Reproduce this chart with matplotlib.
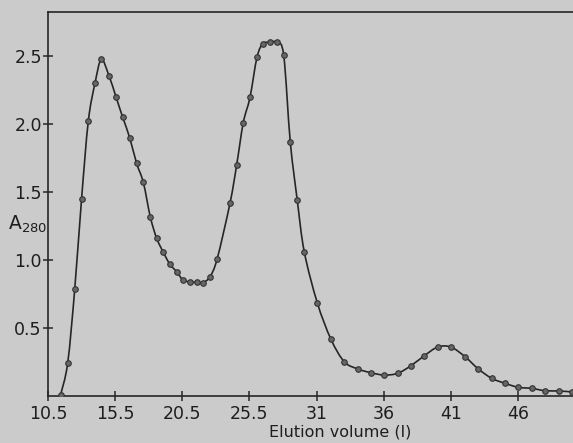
import matplotlib
matplotlib.use("Agg")
import matplotlib.pyplot as plt
from matplotlib.path import Path
from matplotlib.patches import PathPatch

# elution volume (l) and absorbance at 280 nm
volume = [11.44, 11.97, 12.49, 13.0, 13.5, 14.0, 14.47, 15.04, 15.56, 16.06,
          16.58, 17.1, 17.6, 18.12, 18.59, 19.09, 19.58, 20.08, 20.55, 21.05,
          21.57, 22.02, 22.56, 23.1, 24.05, 24.55, 25.04, 25.54, 26.06, 26.5,
          27.03, 27.55, 28.05, 28.54, 29.06, 29.58, 30.55, 31.57, 32.56, 33.56,
          34.55, 35.54, 36.54, 37.53, 38.52, 39.52, 40.5, 41.55, 42.54, 43.54,
          44.53, 45.52, 46.52, 47.5, 48.55, 49.5]
a280 = [0.01, 0.245, 0.785, 1.45, 2.02, 2.30, 2.475, 2.355, 2.20, 2.05,
        1.90, 1.71, 1.57, 1.316, 1.16, 1.056, 0.968, 0.914, 0.853, 0.84,
        0.836, 0.833, 0.877, 1.01, 1.417, 1.70, 2.01, 2.196, 2.49, 2.59,
        2.60, 2.60, 2.505, 1.868, 1.44, 1.061, 0.686, 0.417, 0.252, 0.199,
        0.171, 0.154, 0.167, 0.223, 0.296, 0.36, 0.36, 0.289, 0.199, 0.13,
        0.093, 0.064, 0.056, 0.039, 0.037, 0.03]

xtick_pos = [10.5, 15.5, 20.5, 25.5, 30.5, 35.5, 40.5, 45.5]
xtick_labels = ["10.5", "15.5", "20.5", "25.5", "31", "36", "41", "46"]
ytick_pos = [0.5, 1.0, 1.5, 2.0, 2.5]
ytick_labels = ["0.5", "1.0", "1.5", "2.0", "2.5"]

paper = "#cbcbcb"
ink = "#262626"

plt.rcParams["mathtext.default"] = "regular"

fig = plt.figure(figsize=(5.73, 4.43), dpi=100, facecolor=paper)
ax = fig.add_axes([48 / 573, 1 - 396 / 443, 1 - 48 / 573, (396 - 12) / 443])
ax.set_facecolor(paper)

# smooth curve through the points (Catmull-Rom as cubic Beziers)
pts = list(zip(volume, a280))
verts = [pts[0]]
codes = [Path.MOVETO]
for i in range(len(pts) - 1):
    p0 = pts[i - 1] if i > 0 else pts[i]
    p1 = pts[i]
    p2 = pts[i + 1]
    p3 = pts[i + 2] if i + 2 < len(pts) else pts[i + 1]
    c1 = (p1[0] + (p2[0] - p0[0]) / 6, p1[1] + (p2[1] - p0[1]) / 6)
    c2 = (p2[0] - (p3[0] - p1[0]) / 6, p2[1] - (p3[1] - p1[1]) / 6)
    verts += [c1, c2, p2]
    codes += [Path.CURVE4] * 3
ax.add_patch(PathPatch(Path(verts, codes), facecolor="none", edgecolor=ink,
                       lw=1.2, zorder=2))

ax.plot(volume, a280, linestyle="none", marker="o", markersize=4,
        markerfacecolor="#666666", markeredgecolor="#333333",
        markeredgewidth=0.8, zorder=3)

ax.set_xlim(10.5, 10.5 + (573 - 48) / 13.43)
ax.set_ylim(0, (396 - 12) / 136)

ax.set_xticks(xtick_pos)
ax.set_xticklabels(xtick_labels)
ax.set_yticks(ytick_pos)
ax.set_yticklabels(ytick_labels)
ax.tick_params(axis="both", direction="inout", length=7, width=1.1,
               color=ink, labelcolor="#1e1e1e", labelsize=12.5)
ax.tick_params(axis="x", pad=3)
ax.tick_params(axis="y", pad=1)

for side in ["left", "bottom", "top"]:
    ax.spines[side].set_color(ink)
    ax.spines[side].set_linewidth(1.2)
ax.spines["right"].set_visible(False)

ax.set_xlabel("Elution volume (l)", fontsize=11.5, color="#1e1e1e")
ax.xaxis.set_label_coords((340 - 48) / 525, -0.074)

fig.text(8 / 573, 1 - 230 / 443, "A$_{280}$", fontsize=13.5, color="#1e1e1e",
         ha="left", va="baseline")

fig.savefig("out.png", dpi=100, facecolor=paper)
